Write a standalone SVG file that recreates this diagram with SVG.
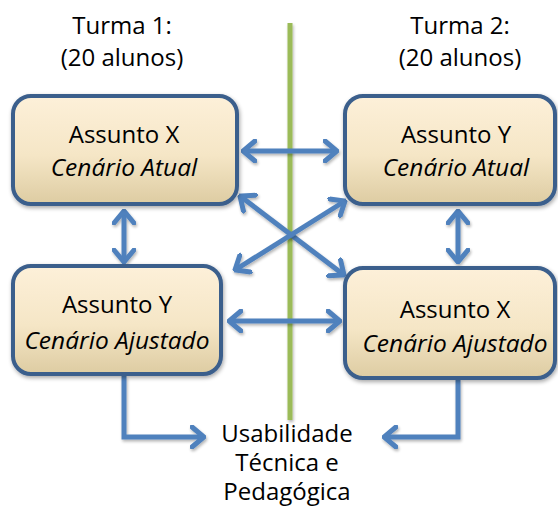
<svg xmlns="http://www.w3.org/2000/svg" width="558" height="508" viewBox="0 0 558 508">
<style>
  text { font-family: "Open Sans", "Liberation Sans", sans-serif; font-size: 24px; fill: #000; text-anchor: middle; }
  .it { font-style: italic; font-size: 24.5px; }
  .box { fill: url(#g); stroke: #3b5e8c; stroke-width: 4; filter: url(#sh); }
  .arr { fill: none; stroke: #4f81bd; stroke-width: 5; stroke-linejoin: miter; filter: url(#sh2); }
</style>
<defs>
  <linearGradient id="g" x1="0" y1="0" x2="0" y2="1">
    <stop offset="0" stop-color="#fdf0d9"/>
    <stop offset="0.55" stop-color="#f5e6c6"/>
    <stop offset="1" stop-color="#ddcca2"/>
  </linearGradient>
  <filter id="sh" filterUnits="userSpaceOnUse" x="0" y="0" width="558" height="508">
    <feGaussianBlur in="SourceAlpha" stdDeviation="2"/>
    <feOffset dx="1" dy="2" result="b"/>
    <feComponentTransfer><feFuncA type="linear" slope="0.35"/></feComponentTransfer>
    <feMerge><feMergeNode/><feMergeNode in="SourceGraphic"/></feMerge>
  </filter>
  <filter id="sh2" filterUnits="userSpaceOnUse" x="0" y="0" width="558" height="508">
    <feGaussianBlur in="SourceAlpha" stdDeviation="1.5"/>
    <feOffset dx="1" dy="2" result="b"/>
    <feComponentTransfer><feFuncA type="linear" slope="0.3"/></feComponentTransfer>
    <feMerge><feMergeNode/><feMergeNode in="SourceGraphic"/></feMerge>
  </filter>
  <marker id="ah" viewBox="-14 -12 16 24" markerWidth="16" markerHeight="24" refX="0" refY="0" orient="auto-start-reverse" markerUnits="userSpaceOnUse">
    <path d="M-12,-10 L0,0 L-12,10" fill="none" stroke="#4f81bd" stroke-width="5" stroke-linecap="round" stroke-linejoin="miter"/>
  </marker>
</defs>

<line x1="290" y1="23" x2="290" y2="420" stroke="#9bbb59" stroke-width="5" filter="url(#sh2)"/>

<g id="label-turma1">
  <text x="122" y="34">Turma 1:</text>
  <text x="122" y="66">(20 alunos)</text>
</g>
<g id="label-turma2">
  <text x="460" y="34">Turma 2:</text>
  <text x="460" y="66">(20 alunos)</text>
</g>

<g id="connectors">
  <line class="arr" x1="243" y1="151" x2="337" y2="151" marker-start="url(#ah)" marker-end="url(#ah)"/>
  <line class="arr" x1="124" y1="211" x2="124" y2="262" marker-start="url(#ah)" marker-end="url(#ah)"/>
  <line class="arr" x1="458" y1="211" x2="458" y2="262" marker-start="url(#ah)" marker-end="url(#ah)"/>
  <line class="arr" x1="240" y1="196" x2="344" y2="275" marker-start="url(#ah)" marker-end="url(#ah)"/>
  <line class="arr" x1="345" y1="201" x2="235" y2="270" marker-start="url(#ah)" marker-end="url(#ah)"/>
  <line class="arr" x1="229" y1="321" x2="340" y2="321" marker-start="url(#ah)" marker-end="url(#ah)"/>
  <polyline class="arr" points="124,376 124,437 204,437" marker-end="url(#ah)"/>
  <polyline class="arr" points="458,380 458,437 384,437" marker-end="url(#ah)"/>
</g>

<g id="node-x-atual">
  <rect class="box" x="13" y="96" width="224" height="108" rx="18"/>
  <text x="124" y="143">Assunto X</text>
  <text class="it" x="124" y="176">Cenário Atual</text>
</g>
<g id="node-y-atual">
  <rect class="box" x="345" y="96" width="210" height="108" rx="18"/>
  <text x="456" y="143">Assunto Y</text>
  <text class="it" x="456" y="176">Cenário Atual</text>
</g>
<g id="node-y-ajustado">
  <rect class="box" x="13" y="266" width="208" height="108" rx="18"/>
  <text x="117" y="313">Assunto Y</text>
  <text class="it" x="117" y="349">Cenário Ajustado</text>
</g>
<g id="node-x-ajustado">
  <rect class="box" x="345" y="268" width="210" height="110" rx="18"/>
  <text x="455" y="318">Assunto X</text>
  <text class="it" x="455" y="352">Cenário Ajustado</text>
</g>

<g id="label-usabilidade">
  <text x="287" y="442">Usabilidade</text>
  <text x="287" y="471">Técnica e</text>
  <text x="287" y="500">Pedagógica</text>
</g>
</svg>
